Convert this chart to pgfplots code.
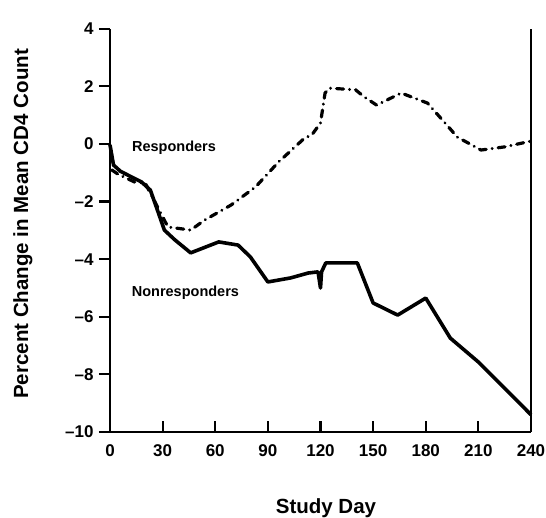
\documentclass[border=0pt]{standalone}
\usepackage{fontspec}
\setmainfont{Liberation Sans}
\usepackage{pgfplots}
\pgfplotsset{compat=1.18}
\begin{document}
\begin{tikzpicture}[x=1pt,y=1pt]
\useasboundingbox (-110,-86) rectangle (436,432);
\begin{axis}[
  at={(0,0)}, anchor=south west,
  scale only axis, width=421pt, height=403.2pt,
  xmin=0, xmax=240, ymin=-10, ymax=4,
  axis x line=bottom, axis y line=left,
  axis line style={-, line width=2.6pt},
  xtick={0,30,...,240}, ytick={-10,-8,...,4},
  yticklabels={\textendash10,\textendash8,\textendash6,\textendash4,\textendash2,0,2,4},
  xtick align=inside, ytick align=outside,
  major tick length=11pt,
  every tick/.style={black, line width=2.2pt},
  /pgf/number format/assume math mode=true,
  tick label style={font=\fontsize{17}{19}\selectfont\bfseries},
  xticklabel style={yshift=-9pt},
  yticklabel style={xshift=-2pt},
  every axis x label/.style={at={(axis description cs:0.513,-0.1885)}, anchor=center},
  every axis y label/.style={at={(axis description cs:-0.2067,0.516)}, rotate=90, anchor=center},
  label style={font=\fontsize{20.5}{22}\selectfont\bfseries},
  xlabel={Study Day},
  ylabel={Percent Change in Mean CD4 Count},
  clip=false,
]
% Responders (dash-dot)
\addplot[black, line width=3.2pt, line cap=round, line join=round,
  dash pattern=on 7pt off 6pt on 0.01pt off 6pt] coordinates {
  (1,-0.9) (4.6,-1.05) (14,-1.32) (20,-1.35) (33,-2.88) (46,-2.99) (54,-2.64)
  (69,-2.12) (83,-1.49) (96,-0.63) (111,0.21) (115,0.31) (120,0.73)
  (122.6,1.77) (125,1.94) (140,1.88) (145,1.63) (152,1.35) (166,1.77)
  (181,1.42) (191,0.73) (198,0.24) (211.5,-0.21) (225,-0.10) (240,0.1)
};
% Nonresponders (solid)
\addplot[black, line width=3.6pt, line join=round] coordinates {
  (0,-0.03) (2,-0.73) (6,-0.95) (18,-1.32) (23,-1.60) (27,-2.29) (31,-2.99)
  (37,-3.33) (46,-3.78) (62,-3.40) (73,-3.51) (80,-3.92) (90,-4.79)
  (103,-4.65) (113,-4.48) (118.6,-4.44) (120,-5.0) (120.6,-4.44) (123,-4.13)
  (141,-4.13) (150,-5.52) (164,-5.94) (180,-5.35) (194,-6.74) (210,-7.57)
  (240,-9.4)
};
\draw[line width=2.6pt] (axis cs:240,-10) -- (axis cs:240,4);
\node[font=\fontsize{14.5}{16}\selectfont\bfseries] at (axis cs:36.5,-0.14) {Responders};
\node[font=\fontsize{14.5}{16}\selectfont\bfseries] at (axis cs:43,-5.17) {Nonresponders};
\end{axis}
\end{tikzpicture}
\end{document}
